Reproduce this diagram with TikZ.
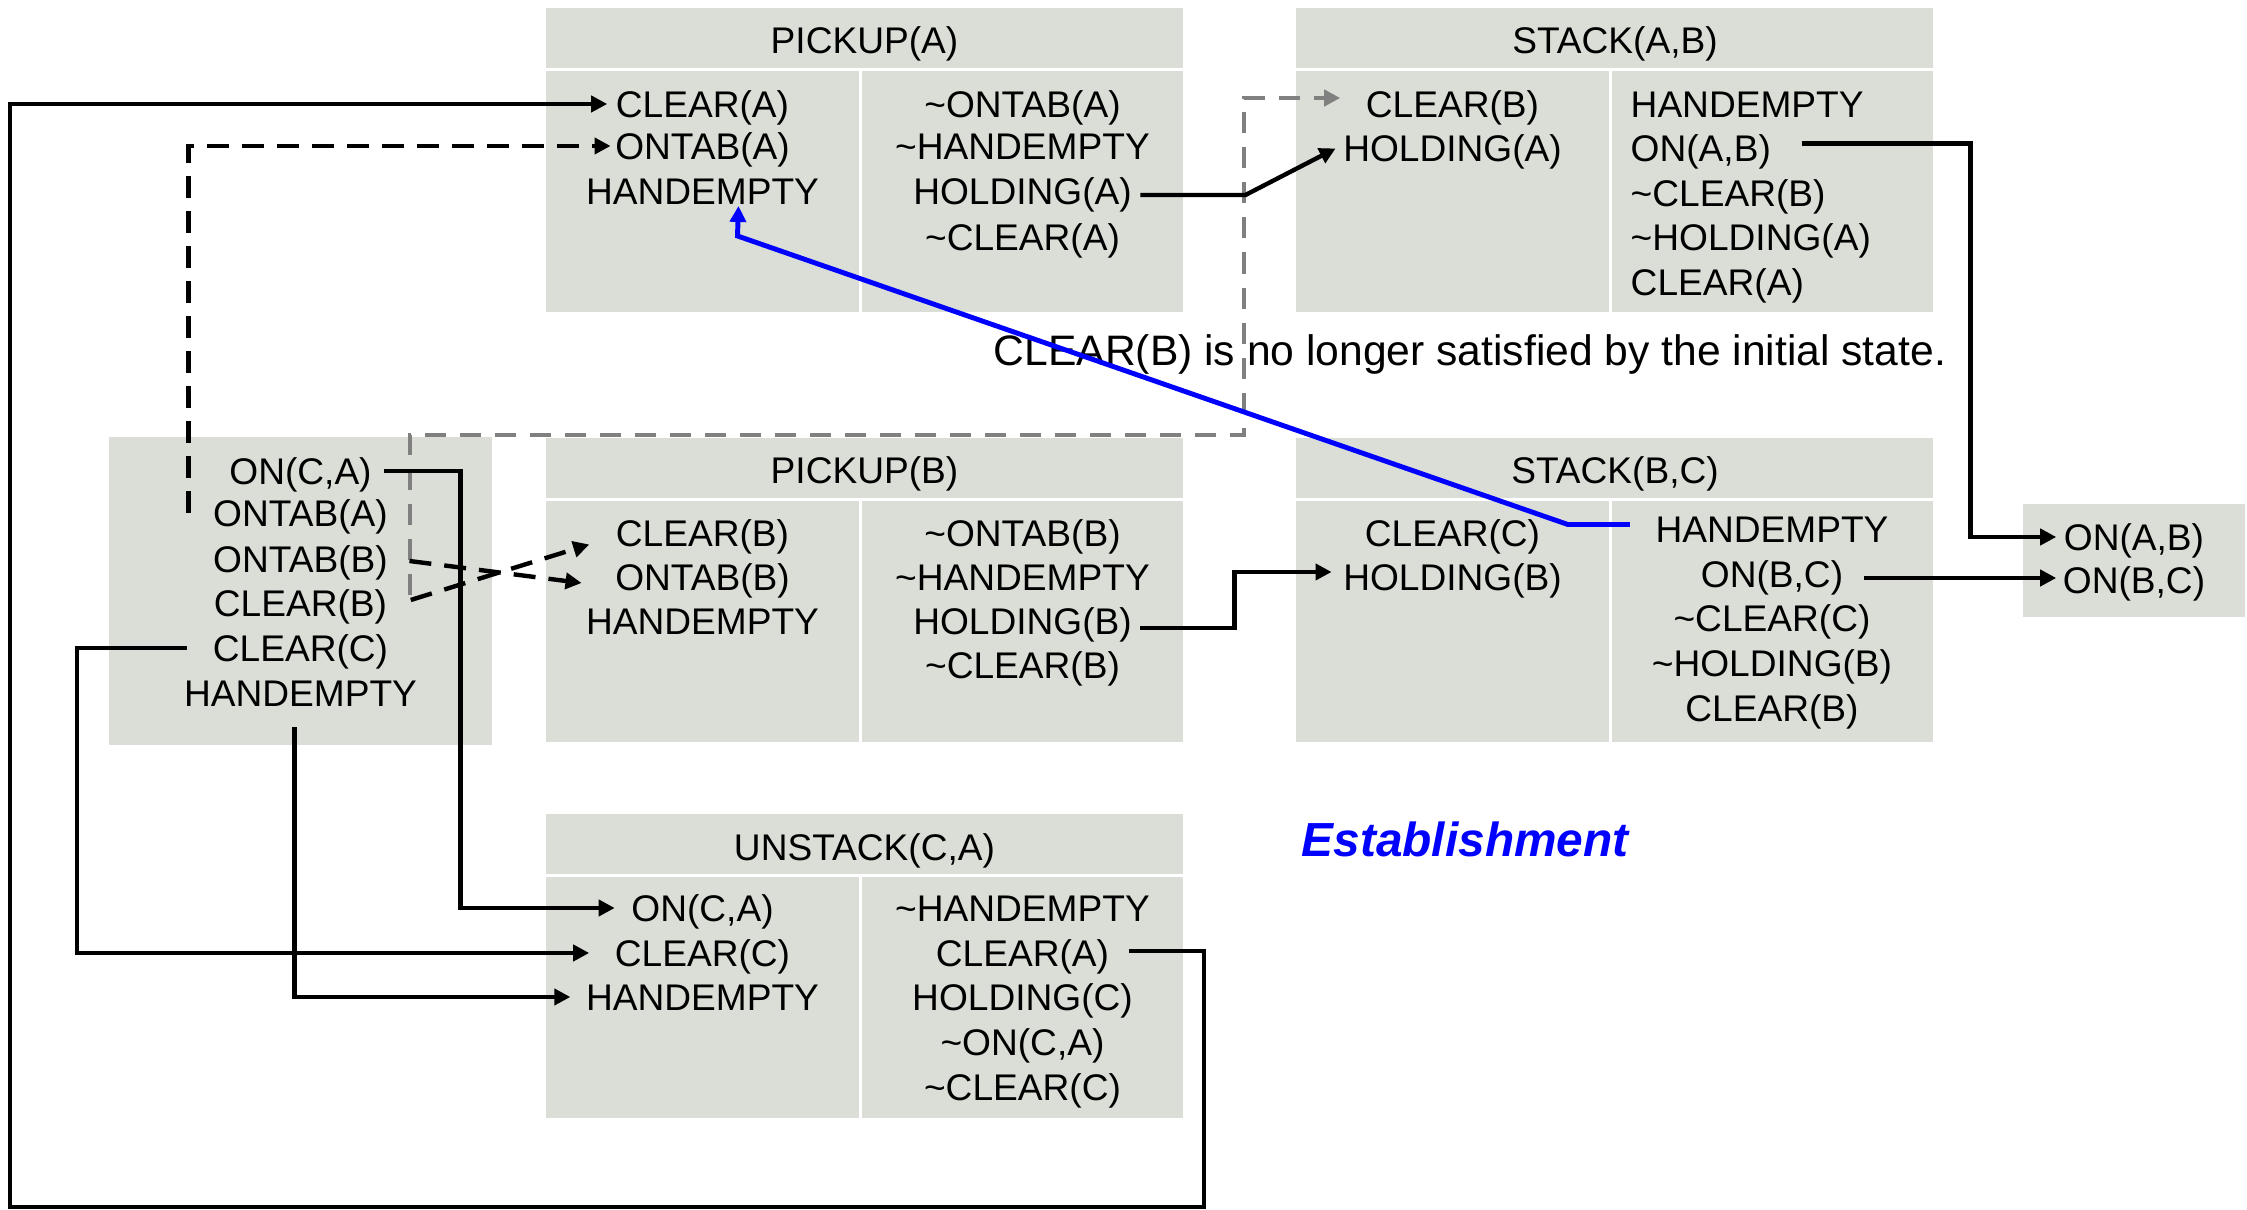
\documentclass[tikz,border=0pt]{standalone}
\usepackage{fontspec}
\setmainfont{Liberation Sans}
\usetikzlibrary{arrows.meta,calc}
\definecolor{cellfill}{RGB}{218,222,215}
\definecolor{threat}{RGB}{128,128,128}

% operator frame: header strip plus two body columns (#1 = left x, #2 = top y)
\newcommand\drawopframe[2]{%
  \fill[cellfill] (#1,#2) rectangle ++(637,60);
  \fill[cellfill] (#1,#2+63) rectangle ++(313,241);
  \fill[cellfill] (#1+316,#2+63) rectangle ++(321,241);
}

\begin{document}
\begin{tikzpicture}[x=0.01cm,y=-0.01cm,
  lit/.style={inner sep=0pt, text height=7.55pt, text depth=0pt,
              font=\fontsize{10.55pt}{12pt}\selectfont},
  litl/.style={lit, anchor=west},
  tip/.style={-{Triangle[length=0.16cm,width=0.16cm]}},
  conn/.style={tip, line width=1.25pt, black},
  dconn/.style={conn, dash pattern=on 0.22cm off 0.13cm},
  gconn/.style={tip, line width=1.2pt, threat, dash pattern=on 0.21cm off 0.14cm},
  econn/.style={tip, line width=1.4pt, blue},
]
\useasboundingbox (0,0) rectangle (2247,1210);

% ---- cells ----
\drawopframe{546}{8}
\drawopframe{1296}{8}
\drawopframe{546}{438}
\drawopframe{1296}{438}
\drawopframe{546}{814}
\fill[cellfill] (109,437) rectangle (492,745);
\fill[cellfill] (2023,504) rectangle (2245,617);

% ---- PICKUP(A) ----
\node[lit] (pa-h)  at (864.5,40) {PICKUP(A)};
\node[lit] (pa-l1) at (702.5,104) {CLEAR(A)};
\node[lit] (pa-l2) at (702.5,146) {ONTAB(A)};
\node[lit] (pa-l3) at (702.5,191) {HANDEMPTY};
\node[lit] (pa-r1) at (1022.5,104) {\char`\~ONTAB(A)};
\node[lit] (pa-r2) at (1022.5,146) {\char`\~HANDEMPTY};
\node[lit] (pa-r3) at (1022.5,191) {HOLDING(A)};
\node[lit] (pa-r4) at (1022.5,237) {\char`\~CLEAR(A)};

% ---- STACK(A,B) ----
\node[lit]  (sa-h)  at (1615,40) {STACK(A,B)};
\node[lit]  (sa-l1) at (1452.5,104) {CLEAR(B)};
\node[lit]  (sa-l2) at (1452.5,148.5) {HOLDING(A)};
\node[litl] (sa-r1) at (1630,104) {HANDEMPTY};
\node[litl] (sa-r2) at (1630,148.5) {ON(A,B)};
\node[litl] (sa-r3) at (1630,193) {\char`\~CLEAR(B)};
\node[litl] (sa-r4) at (1630,237.5) {\char`\~HOLDING(A)};
\node[litl] (sa-r5) at (1630,282) {CLEAR(A)};

% ---- initial state ----
\node[lit] (in-1) at (300.5,471) {ON(C,A)};
\node[lit] (in-2) at (300.5,513) {ONTAB(A)};
\node[lit] (in-3) at (300.5,559) {ONTAB(B)};
\node[lit] (in-4) at (300.5,603) {CLEAR(B)};
\node[lit] (in-5) at (300.5,648) {CLEAR(C)};
\node[lit] (in-6) at (300.5,693) {HANDEMPTY};

% ---- PICKUP(B) ----
\node[lit] (pb-h)  at (864.5,470) {PICKUP(B)};
\node[lit] (pb-l1) at (702.5,533.5) {CLEAR(B)};
\node[lit] (pb-l2) at (702.5,577) {ONTAB(B)};
\node[lit] (pb-l3) at (702.5,621) {HANDEMPTY};
\node[lit] (pb-r1) at (1022.5,533.5) {\char`\~ONTAB(B)};
\node[lit] (pb-r2) at (1022.5,577) {\char`\~HANDEMPTY};
\node[lit] (pb-r3) at (1022.5,621) {HOLDING(B)};
\node[lit] (pb-r4) at (1022.5,665) {\char`\~CLEAR(B)};

% ---- STACK(B,C) ----
\node[lit] (sb-h)  at (1615,470) {STACK(B,C)};
\node[lit] (sb-l1) at (1452.5,533.5) {CLEAR(C)};
\node[lit] (sb-l2) at (1452.5,577) {HOLDING(B)};
\node[lit] (sb-r1) at (1772,529.5) {HANDEMPTY};
\node[lit] (sb-r2) at (1772,574) {ON(B,C)};
\node[lit] (sb-r3) at (1772,618.5) {\char`\~CLEAR(C)};
\node[lit] (sb-r4) at (1772,663) {\char`\~HOLDING(B)};
\node[lit] (sb-r5) at (1772,708) {CLEAR(B)};

% ---- goal ----
\node[lit] (go-1) at (2134,537) {ON(A,B)};
\node[lit] (go-2) at (2134,580) {ON(B,C)};

% ---- UNSTACK(C,A) ----
\node[lit] (ua-h)  at (864.5,847) {UNSTACK(C,A)};
\node[lit] (ua-l1) at (702.5,908) {ON(C,A)};
\node[lit] (ua-l2) at (702.5,953) {CLEAR(C)};
\node[lit] (ua-l3) at (702.5,997) {HANDEMPTY};
\node[lit] (ua-r1) at (1022.5,908) {\char`\~HANDEMPTY};
\node[lit] (ua-r2) at (1022.5,953) {CLEAR(A)};
\node[lit] (ua-r3) at (1022.5,997) {HOLDING(C)};
\node[lit] (ua-r4) at (1022.5,1042) {\char`\~ON(C,A)};
\node[lit] (ua-r5) at (1022.5,1087) {\char`\~CLEAR(C)};

% ---- annotations ----
\node[anchor=base west, inner sep=0pt, font=\fontsize{12.12pt}{14pt}\selectfont]
  (note) at (993,366) {CLEAR(B) is no longer satisfied by the initial state.};
\node[anchor=base west, inner sep=0pt, text=blue,
      font=\fontsize{13.6pt}{16pt}\selectfont\bfseries\itshape]
  (estab) at (1301,857) {Establishment};

% ---- causal links ----
\draw[gconn] ($(in-4.east)+(22,-8)$) |- (1244,435) |- ($(sa-l1.west)+(-25,-6)$);

\draw[conn] ($(ua-r2.east)+(19,-2)$) -| (1204,1207) -- (10,1207) |- ($(pa-l1.west)+(-8,0)$);
\draw[dconn] ($(in-2.west)+(-24,0)$) |- ($(pa-l2.west)+(-4,0)$);
\draw[conn] ($(in-1.east)+(12,0)$) -- ++(76,0) |- ($(ua-l1.west)+(-16,0)$);
\draw[dconn] ($(in-3.east)+(21,2)$) -- ($(pb-l2.west)+(-33,6)$);
\draw[dconn] ($(in-4.east)+(23,-3)$) -- ($(pb-l1.west)+(-26,11)$);
\draw[conn] ($(in-5.west)+(-25,0)$) -- ++(-110,0) |- ($(ua-l2.west)+(-25,0)$);
\draw[conn] ($(in-6.south)+(-6,20)$) |- ($(ua-l3.west)+(-15,0)$);
\draw[conn] ($(pa-r3.east)+(8,4)$) -- ++(105,0) -- ($(sa-l2.west)+(-7,0)$);
\draw[conn] ($(sa-r2.east)+(30,-5)$) -- ++(169,0) |- ($(go-1.west)+(-7,0)$);
\draw[conn] ($(pb-r3.east)+(8,7)$) -- ++(94,0) |- ($(sb-l2.west)+(-11,-5)$);
\draw[conn] ($(sb-r2.east)+(20,4)$) -- ($(go-2.west)+(-6,-2)$);

% establishment of HANDEMPTY for PICKUP(A)
\draw[econn] ($(sb-r1.west)+(-25,-5)$) -- ++(-62,0)
  -- ($(pa-l3.south)+(35,31)$) -- ($(pa-l3.south)+(36,1)$);
\end{tikzpicture}
\end{document}
